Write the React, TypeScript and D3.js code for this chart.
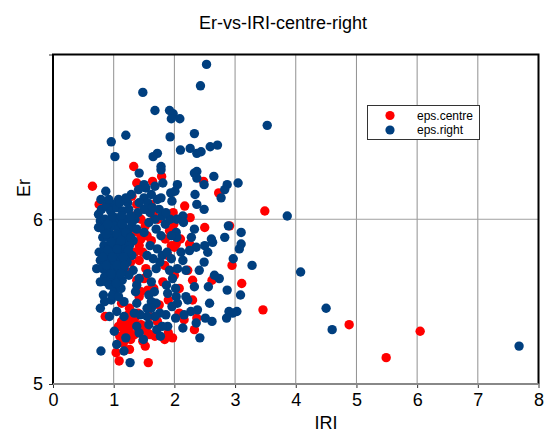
import React, { useEffect, useRef } from "react";
import * as d3 from "d3";

type Pt = [number, number];

const xTicks = [0, 1, 2, 3, 4, 5, 6, 7, 8];
const yTicks = [5, 6, 7];
const yLabels = ["5", "6", ""];
const seriesNames = ["eps.centre", "eps.right"];

// [IRI, Er]
const epsCentre: Pt[] = [
  [0.65, 6.2], [1.33, 6.32], [0.76, 6.09], [1.79, 6.26], [1.64, 6.23], [1.38, 6.22], [2.48, 6.23],
  [2.73, 6.16], [2.17, 6.08], [2.26, 6.01], [1.98, 6.04], [1.61, 6.09], [1.38, 6.09], [1.3, 6.14],
  [1.55, 6.06], [1.65, 6.03], [3.49, 6.05], [3.46, 5.45], [4.88, 5.36], [6.05, 5.32], [5.49, 5.16],
  [1.04, 5.19], [1.26, 5.21], [1.09, 5.14], [1.57, 5.13], [1.52, 5.23], [1.48, 5.26], [1.97, 5.28],
  [1.9, 5.31], [2.33, 5.33], [2.37, 5.4], [0.86, 5.41], [1.23, 5.35], [1.1, 5.29], [1.13, 5.38],
  [1.29, 5.39], [1.18, 5.31], [1.31, 5.36], [1.25, 5.32], [1.2, 5.37], [1.56, 5.31], [2.16, 5.39],
  [2.08, 5.43], [2.3, 5.51], [3.11, 5.61], [2.95, 5.72], [2.3, 5.63], [2.62, 5.63], [2.22, 5.69],
  [2.08, 5.58], [2.5, 5.95], [2.91, 5.96], [1.99, 5.97], [1.92, 5.93], [2.03, 5.85], [1.95, 5.84],
  [2.1, 5.88], [2.0, 5.83], [2.25, 5.85], [1.89, 5.78], [1.62, 5.87], [1.42, 5.84], [1.45, 5.88],
  [1.38, 5.63], [1.5, 5.64], [1.53, 5.7], [1.81, 5.62], [1.56, 5.57], [1.42, 5.53], [1.72, 5.38],
  [1.6, 5.41], [1.45, 5.56], [1.66, 5.58], [1.35, 5.8], [1.3, 5.93], [1.28, 5.74], [1.52, 5.96],
  [1.73, 6.0], [1.84, 5.72], [2.0, 5.66], [1.26, 5.46], [1.4, 5.43], [1.75, 5.48], [1.9, 5.51],
  [1.35, 6.02], [1.45, 6.0], [1.12, 5.9], [1.22, 5.68], [1.05, 5.62], [1.13, 5.49], [0.92, 5.72],
  [1.15, 5.34], [1.22, 5.29], [1.28, 5.27], [1.34, 5.3], [1.08, 5.35], [1.16, 5.25], [1.35, 5.4],
  [1.24, 5.42], [1.45, 5.36], [1.52, 5.33], [1.6, 5.3], [1.68, 5.29], [1.84, 5.27], [1.42, 5.75],
  [1.48, 5.8], [1.4, 5.92], [1.55, 5.9], [1.85, 5.88],
];

const epsRight: Pt[] = [
  [2.53, 6.94], [2.43, 6.81], [1.48, 6.77], [1.68, 6.66], [1.92, 6.66], [1.98, 6.64], [1.95, 6.61],
  [2.09, 6.61], [2.33, 6.52], [1.93, 6.5], [1.2, 6.51], [0.96, 6.47], [1.02, 6.38], [2.1, 6.42],
  [2.26, 6.43], [2.37, 6.4], [2.44, 6.41], [2.59, 6.44], [2.71, 6.45], [1.72, 6.4], [1.65, 6.38],
  [1.78, 6.32], [1.78, 6.3], [1.42, 6.28], [2.37, 6.29], [2.33, 6.28], [2.37, 6.25], [2.65, 6.26],
  [2.49, 6.21], [3.05, 6.22], [2.87, 6.21], [2.83, 6.18], [2.77, 6.13], [2.34, 6.15], [2.37, 6.09],
  [2.49, 6.06], [2.05, 6.21], [2.01, 6.17], [1.94, 6.16], [1.81, 6.22], [1.68, 6.2], [1.53, 6.19],
  [1.5, 6.21], [1.41, 6.18], [1.29, 6.15], [0.87, 6.17], [0.79, 6.12], [1.08, 6.12], [1.5, 6.13],
  [1.72, 6.12], [1.78, 6.13], [1.96, 6.11], [1.23, 6.1], [2.14, 6.02], [0.98, 6.09], [3.53, 6.57],
  [3.86, 6.02], [4.08, 5.68], [4.5, 5.46], [4.6, 5.33], [7.68, 5.23],
  [2.89, 5.96], [3.1, 5.92], [2.83, 5.89], [3.1, 5.85], [3.07, 5.82], [3.28, 5.72], [2.97, 5.76],
  [2.87, 5.57], [3.09, 5.54], [2.9, 5.44], [3.03, 5.44], [2.96, 5.43], [2.86, 5.4], [2.58, 5.49],
  [2.62, 5.38], [2.51, 5.4], [2.42, 5.28], [2.14, 5.34], [2.36, 5.37], [2.38, 5.45], [2.27, 5.44],
  [2.16, 5.42], [2.02, 5.4], [2.74, 5.64], [2.66, 5.66], [2.56, 5.59], [2.33, 5.59], [2.41, 5.69],
  [2.49, 5.74], [2.55, 5.8], [2.63, 5.86], [2.61, 5.88], [2.5, 5.84], [2.36, 5.83], [2.25, 5.81],
  [2.11, 5.8], [2.33, 5.94], [2.28, 5.89], [2.03, 5.92], [2.04, 5.89], [2.14, 5.75], [2.19, 5.69],
  [1.97, 5.64], [1.92, 5.69], [2.05, 5.7], [1.87, 5.6], [2.02, 5.58], [1.89, 5.55], [2.03, 5.53],
  [2.19, 5.53], [2.22, 5.51], [2.05, 5.49], [1.96, 5.47], [1.86, 5.42], [1.89, 5.35], [1.71, 5.33],
  [1.77, 5.29], [1.58, 5.36], [1.38, 5.35], [1.42, 5.31], [1.49, 5.27], [1.2, 5.28], [1.01, 5.32],
  [1.05, 5.24], [1.17, 5.2], [0.79, 5.2], [1.27, 5.13], [1.8, 5.35],
  [1.58, 5.54], [1.67, 5.56], [1.62, 5.5], [1.7, 5.49], [1.62, 5.46], [1.55, 5.46], [1.76, 5.43],
  [1.68, 5.41], [1.55, 5.41], [1.34, 5.43], [1.44, 5.42], [1.17, 5.41], [1.05, 5.44], [0.93, 5.41],
  [0.78, 5.46], [0.83, 5.54], [0.96, 5.51], [1.17, 5.5], [1.38, 5.49], [1.36, 5.56], [1.01, 5.56],
  [0.85, 5.5], [1.08, 5.59], [1.38, 5.6], [1.42, 5.64], [1.56, 5.67], [1.62, 5.62], [1.7, 5.7],
  [1.76, 5.74], [1.65, 5.76], [1.55, 5.78], [1.8, 5.78], [1.88, 5.8], [1.95, 5.76], [1.72, 5.82],
  [1.6, 5.84], [1.78, 5.9], [1.7, 5.94], [1.85, 5.97], [1.93, 6.0], [1.8, 6.02], [1.68, 6.0],
  [1.58, 5.98], [1.5, 5.92], [1.6, 6.04], [1.5, 6.06], [1.4, 6.04],
  [0.75, 6.03], [0.8, 6.06], [0.88, 6.08], [0.95, 6.05], [1.05, 6.07], [1.15, 6.05], [1.25, 6.06],
  [1.35, 6.0], [1.3, 5.98], [0.78, 5.99], [0.86, 6.0], [0.94, 5.99], [1.02, 6.01], [1.1, 5.99],
  [1.2, 6.0], [0.75, 5.95], [0.83, 5.94], [0.92, 5.94], [1.0, 5.96], [1.08, 5.94], [1.17, 5.95],
  [1.25, 5.94], [1.38, 5.94], [0.82, 5.89], [0.9, 5.89], [0.98, 5.9], [1.06, 5.88], [1.14, 5.9],
  [1.22, 5.88], [1.32, 5.87], [0.84, 5.84], [0.93, 5.84], [1.01, 5.84], [1.1, 5.85], [1.18, 5.83],
  [1.26, 5.84], [0.76, 5.8], [0.85, 5.79], [0.94, 5.79], [1.02, 5.8], [1.1, 5.79], [1.2, 5.79],
  [1.3, 5.78], [0.78, 5.75], [0.86, 5.74], [0.95, 5.75], [1.03, 5.74], [1.12, 5.75], [1.22, 5.74],
  [0.72, 5.7], [0.82, 5.7], [0.9, 5.69], [1.0, 5.7], [1.08, 5.69], [1.16, 5.7], [1.32, 5.69],
  [0.85, 5.65], [0.78, 5.62], [0.88, 5.62], [0.96, 5.64], [1.06, 5.65], [1.14, 5.63], [1.25, 5.66],
  [0.93, 5.6], [1.0, 5.59], [1.12, 5.58], [0.98, 5.54], [1.08, 5.53],
  [0.98, 6.02], [1.12, 6.02], [1.28, 6.02], [0.9, 5.97], [1.14, 5.97], [1.05, 5.91], [0.88, 5.91],
  [1.2, 5.92], [0.96, 5.86], [1.12, 5.87], [1.28, 5.89], [0.9, 5.81], [1.06, 5.82], [1.24, 5.81],
  [0.82, 5.77], [0.98, 5.77], [1.16, 5.77], [0.88, 5.72], [1.06, 5.72], [1.18, 5.72], [0.96, 5.67],
  [1.12, 5.67], [1.04, 5.61], [1.42, 6.1], [1.56, 6.1], [1.64, 6.07], [1.75, 6.06], [1.86, 6.04],
  [1.1, 6.1], [0.92, 6.12], [1.2, 6.13], [1.62, 6.15], [2.04, 6.0], [2.15, 5.98], [1.95, 5.9],
];

const App = () => {
  const ref = useRef<SVGSVGElement | null>(null);

  useEffect(() => {
    const svg = d3.select(ref.current);
    svg.selectAll("*").remove();
    svg.attr("width", 549).attr("height", 432).style("position", "absolute").style("left", 0).style("top", 0);

    const font = "'Liberation Sans', Arial, sans-serif";
    const x = d3.scaleLinear().domain([0, 8]).range([53, 538.5]);
    const y = d3.scaleLinear().domain([5, 7]).range([384, 54.5]);
    const colors = ["#ff0000", "#003f7f"];

    // grid
    svg.append("g").selectAll("line").data(xTicks.slice(1, -1)).join("line")
      .attr("x1", (d) => x(d)).attr("x2", (d) => x(d))
      .attr("y1", y(5)).attr("y2", y(7))
      .attr("stroke", "#909090").attr("stroke-width", 1);
    svg.append("line")
      .attr("x1", x(0)).attr("x2", x(8))
      .attr("y1", y(6)).attr("y2", y(6))
      .attr("stroke", "#a0a0a0").attr("stroke-width", 1);

    // axes
    const xAxis = d3.axisBottom(x).tickValues(xTicks).tickFormat(d3.format("d")).tickSizeOuter(0).tickSize(4).tickPadding(5);
    const gx = svg.append("g").attr("transform", `translate(0,${y(5)})`).call(xAxis);
    const yAxis = d3.axisLeft(y).tickValues(yTicks)
      .tickFormat((d) => yLabels[yTicks.indexOf(+d)]).tickSizeOuter(0).tickSize(4).tickPadding(6);
    const gy = svg.append("g").attr("transform", `translate(${x(0)},0)`).call(yAxis);
    [gx, gy].forEach((g) => {
      g.selectAll("text").attr("font-family", font).attr("font-size", 18).attr("fill", "#000");
      g.selectAll(".tick line").attr("stroke", "#333");
      g.select(".domain").remove();
    });

    // points
    [epsCentre, epsRight].forEach((pts, i) => {
      svg.append("g").selectAll("circle").data(pts).join("circle")
        .attr("cx", (d) => x(d[0])).attr("cy", (d) => y(d[1]))
        .attr("r", 4.7).attr("fill", colors[i]);
    });

    // frame
    svg.append("path")
      .attr("d", `M${x(0)},${y(5)}V${y(7)}H${x(8)}V${y(5)}`)
      .attr("fill", "none").attr("stroke", "#000").attr("stroke-width", 2);
    svg.append("line")
      .attr("x1", x(0)).attr("x2", x(8)).attr("y1", y(5)).attr("y2", y(5))
      .attr("stroke", "#888").attr("stroke-width", 2);

    // legend
    const legend = svg.append("g");
    legend.append("rect")
      .attr("x", 367.5).attr("y", 105.5).attr("width", 112).attr("height", 34)
      .attr("fill", "#fff").attr("stroke", "#333");
    seriesNames.forEach((name, i) => {
      legend.append("circle").attr("cx", 390).attr("cy", 115.5 + i * 14.5).attr("r", 4.6).attr("fill", colors[i]);
      legend.append("text").attr("x", 417).attr("y", 119.5 + i * 14.5)
        .attr("font-family", font).attr("font-size", 12).attr("fill", "#000").text(name);
    });

    // titles
    svg.append("text").attr("x", 283).attr("y", 29).attr("text-anchor", "middle")
      .attr("font-family", font).attr("font-size", 18).attr("fill", "#000").text("Er-vs-IRI-centre-right");
    svg.append("text").attr("x", 326).attr("y", 429).attr("text-anchor", "middle")
      .attr("font-family", font).attr("font-size", 18).attr("fill", "#000").text("IRI");
    svg.append("text").attr("transform", "translate(30,188) rotate(-90)").attr("text-anchor", "middle")
      .attr("font-family", font).attr("font-size", 18).attr("fill", "#000").text("Er");
  }, []);

  return <svg ref={ref}></svg>;
};

export default App;
